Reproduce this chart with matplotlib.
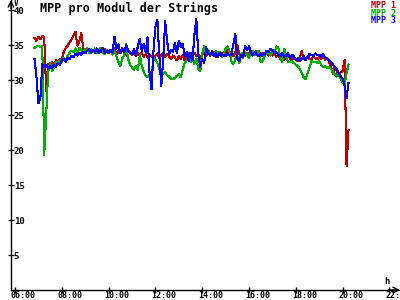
#!/usr/bin/env python3

import numpy as np
import matplotlib
matplotlib.use('Agg')
import matplotlib.pyplot as plt
from matplotlib.transforms import ScaledTranslation

plt.rcParams['font.family'] = 'DejaVu Sans Mono'
plt.rcParams['font.weight'] = 'bold'

# samples every 5 minutes, first one at 06:50
start_hour = 6 + 50 / 60
step_hour = 5 / 60

mpp_1 = [36.0, 35.6,
         36.2, 35.8, 36.3, 36.0, 28.4, 32.3, 32.0, 32.6, 32.2, 32.8, 32.5, 33.0,
         33.0, 34.0, 34.6, 34.9, 35.4, 35.8, 36.4, 36.9, 34.9, 35.5, 36.7, 34.5,
         34.2, 34.5, 34.0, 34.4, 34.2, 33.9, 34.3, 34.0, 34.5, 33.8, 34.4, 34.0,
         33.8, 34.2, 34.0, 34.5, 33.6, 34.1, 33.8, 34.3, 34.0, 33.5, 34.2, 33.9,
         33.6, 34.0, 33.4, 33.8, 33.5, 33.9, 33.3, 33.7, 33.2, 33.6, 33.4, 33.0,
         33.5, 33.8, 33.2, 33.6, 33.9, 33.3, 33.7, 33.4, 33.0, 33.5, 33.2, 32.8,
         33.4, 33.0, 33.6, 32.7, 33.3, 33.8, 33.2, 33.5, 33.9, 33.4, 33.7, 33.2,
         33.6, 34.0, 33.4, 33.9, 33.5, 34.1, 33.7, 33.3, 34.0, 33.6, 33.9, 33.5,
         33.8, 34.3, 33.6, 33.9, 33.4, 34.0, 35.0, 33.7, 33.3, 33.8, 33.5, 33.9,
         33.6, 34.1, 33.5, 33.8, 34.2, 33.7, 33.4, 33.9, 33.6, 34.0, 33.5, 33.8,
         33.5, 33.8, 33.3, 33.6, 33.0, 33.4, 32.9, 33.2, 33.6, 33.1, 32.8, 33.3,
         33.0, 32.7, 33.2, 34.1, 33.1, 32.8, 33.3, 33.0, 32.9, 33.4, 33.1, 33.0,
         33.3, 33.0, 33.4, 32.9, 33.2, 32.6, 32.0, 30.8, 31.9, 31.2, 30.6, 31.1,
         31.3, 32.9, 17.7, 22.8]

mpp_2 = [34.6, 34.8,
         34.9, 34.7, 34.8, 19.3, 25.0, 31.2, 32.5, 31.3, 31.8, 32.6, 32.4, 32.8,
         32.6, 33.2, 32.8, 33.5, 33.9, 34.2, 34.0, 34.5, 33.8, 34.6, 34.3, 34.1,
         34.2, 34.6, 33.9, 34.4, 34.0, 34.5, 33.8, 34.3, 34.6, 34.0, 33.7, 34.3,
         34.0, 34.3, 33.6, 34.2, 33.4, 32.6, 32.0, 33.1, 33.5, 35.2, 33.0, 32.2,
         31.8, 31.5, 32.0, 31.4, 33.6, 32.0, 31.2, 30.6, 30.4, 30.8, 30.6, 33.2,
         32.9, 32.4, 31.6, 31.2, 30.9, 31.1, 30.7, 30.5, 30.2, 30.1, 30.3, 30.6,
         30.8, 30.4, 31.5, 32.4, 32.8, 33.2, 32.6, 33.0, 32.3, 33.1, 31.5, 31.3,
         33.8, 34.9, 33.8, 34.3, 33.5, 33.9, 33.4, 34.2, 33.6, 34.0, 33.3, 33.7,
         34.5, 34.8, 34.1, 32.6, 32.3, 33.0, 33.5, 32.4, 33.8, 33.2, 34.0, 33.6,
         33.2, 33.9, 34.1, 33.6, 33.8, 34.2, 32.5, 32.7, 33.4, 33.9, 34.1, 33.5,
         34.0, 33.8, 34.8, 34.7, 33.3, 32.6, 34.5, 33.4, 32.6, 32.5, 32.7, 32.4,
         32.2, 32.0, 31.6, 31.0, 30.4, 30.1, 30.9, 31.8, 32.7, 32.5, 32.6, 32.4,
         32.7, 32.1, 31.8, 32.0, 31.7, 31.9, 31.6, 31.2, 30.8, 30.5, 30.9, 30.2,
         29.6, 29.3, 31.0, 32.2]

mpp_3 = [33.0, 30.5,
         26.7, 27.3, 32.3, 31.8, 32.2, 31.6, 32.0, 31.7, 32.1, 31.9, 32.4, 32.2,
         32.8, 33.0, 32.6, 33.2, 33.0, 33.5, 33.3, 33.7, 33.5, 33.9, 33.6, 34.0,
         33.8, 34.2, 34.4, 33.9, 34.3, 34.0, 34.5, 33.8, 34.2, 34.6, 33.9, 34.1,
         34.0, 34.3, 33.9, 36.2, 34.5, 35.1, 33.8, 34.6, 34.0, 35.0, 34.2, 33.9,
         33.7, 34.4, 33.6, 34.8, 35.9, 34.1, 35.2, 34.0, 36.1, 31.0, 28.7, 34.1,
         37.6, 38.6, 33.5, 29.1, 33.0, 38.4, 35.5, 33.7, 34.3, 34.0, 35.3, 33.8,
         35.6, 34.7, 35.2, 33.4, 34.0, 32.7, 33.9, 32.8, 36.5, 38.7, 33.5, 31.9,
         33.0, 32.4, 34.7, 33.9, 33.5, 34.0, 33.4, 33.8, 33.3, 33.9, 33.5, 33.6,
         33.4, 33.8, 33.5, 33.7, 35.2, 36.6, 33.0, 32.7, 33.6, 33.3, 34.8, 34.3,
         34.8, 33.9, 33.5, 34.0, 33.6, 33.4, 33.8, 33.5, 33.7, 34.2, 34.0, 34.4,
         34.3, 33.8, 34.0, 33.6, 33.4, 33.9, 33.3, 33.5, 33.8, 33.2, 33.6, 33.4,
         32.8, 33.1, 32.7, 33.0, 33.4, 32.9, 33.2, 33.7, 33.6, 33.4, 33.8, 33.5,
         33.6, 33.3, 33.7, 33.2, 33.0, 32.8, 32.6, 32.2, 31.9, 31.5, 31.0, 30.5,
         30.2, 29.2, 27.4, 29.6]

series_names = ['MPP 1', 'MPP 2', 'MPP 3']
series_colors = ['#c00000', '#00b000', '#0000ff']
x_ticks = [6, 8, 10, 12, 14, 16, 18, 20, 22]
x_tick_labels = ['06:00', '08:00', '10:00', '12:00', '14:00',
                 '16:00', '18:00', '20:00', '22:00']
y_ticks = [5, 10, 15, 20, 25, 30, 35, 40]

fig = plt.figure(figsize=(4, 3), dpi=100)
ax = fig.add_axes([11 / 400, 10 / 300, 389 / 400, 290 / 300])

hours = start_hour + step_hour * np.arange(len(mpp_1))
for vals, col in zip([mpp_1, mpp_2, mpp_3], series_colors):
    ax.plot(hours, vals, color=col, lw=0.75, antialiased=False)

ax.set_xlim(5.83, 22.45)
ax.set_ylim(0, 41.43)

for side in ['top', 'right']:
    ax.spines[side].set_visible(False)
for side in ['left', 'bottom']:
    ax.spines[side].set_linewidth(1)

ax.set_xticks(x_ticks)
ax.set_xticklabels(x_tick_labels, fontsize=6, ha='left')
ax.set_yticks(y_ticks)
ax.set_yticklabels([str(v) for v in y_ticks], fontsize=6.5, ha='left')
ax.tick_params(axis='both', direction='inout', length=5, width=1)
ax.tick_params(axis='x', pad=-1.5)
ax.tick_params(axis='y', pad=-4.5)
shift = ScaledTranslation(-4 / 100, 0, fig.dpi_scale_trans)
for lab in ax.get_xticklabels():
    lab.set_transform(lab.get_transform() + shift)

# arrow heads on the axes
arrow = dict(arrowstyle='->', lw=1, color='black', shrinkA=0, shrinkB=0)
ax.annotate('', xy=(0, 1), xytext=(0, 0.97), xycoords='axes fraction', arrowprops=arrow)
ax.annotate('', xy=(1, 0), xytext=(0.97, 0), xycoords='axes fraction', arrowprops=arrow)

fig.text(14 / 400, 1 + 1 / 300, 'V', fontsize=5.5, va='top', ha='left')
fig.text(384 / 400, 1 - 277 / 300, 'h', fontsize=6.5, va='top', ha='left')
fig.text(40 / 400, 1 - 2 / 300, 'MPP pro Modul der Strings', fontsize=8.5,
         va='top', ha='left')

for i, (name, col) in enumerate(zip(series_names, series_colors)):
    fig.text(396 / 400, 1 - (1 + 7.5 * i) / 300, name, color=col,
             fontsize=6, va='top', ha='right')

fig.savefig('out.png', dpi=100)
